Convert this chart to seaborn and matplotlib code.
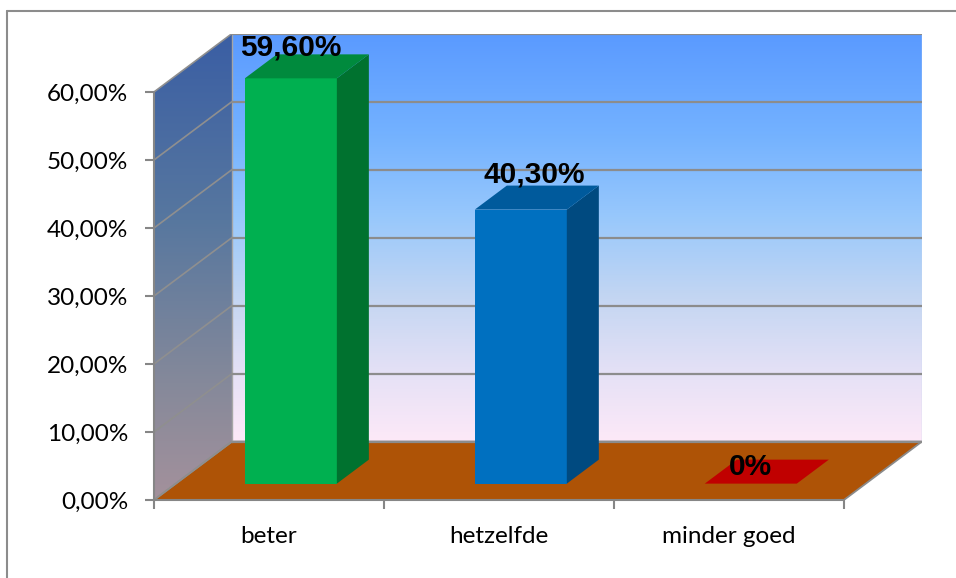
import numpy as np
import matplotlib
matplotlib.use("Agg")
import matplotlib.pyplot as plt
import seaborn as sns
from matplotlib.colors import LinearSegmentedColormap
from matplotlib.patches import Polygon
from matplotlib.transforms import Affine2D
from matplotlib.lines import Line2D

# ---- data -------------------------------------------------------------
categories = ["beter", "hetzelfde", "minder goed"]
values = [59.6, 40.3, 0.0]
value_labels = ["59,60%", "40,30%", "0%"]
y_ticks = [0, 10, 20, 30, 40, 50, 60]
y_tick_labels = ["0,00%", "10,00%", "20,00%", "30,00%", "40,00%", "50,00%", "60,00%"]

# ---- styling ----------------------------------------------------------
front_colors = ["#00B050", "#0070C0", "#C00000"]
side_colors = ["#00722F", "#004A80", "#8A0000"]
top_colors = ["#008A3D", "#005A9C", "#C00000"]
label_offsets_px = [(0, 31), (13, 35), (0, 17)]

sns.set_style("white")
plt.rcParams["font.family"] = ["Lato", "DejaVu Sans"]

W, H = 956, 578
fig = plt.figure(figsize=(W / 100, H / 100), dpi=100)

# pseudo-3D depth offset, in data units (categories / percent)
DX, DY = 0.3396, 8.6
D0, D1 = 0.28, 0.69          # bar depth range (0 = front, 1 = back)
YMAX = 60
x_lo, x_hi = -0.5, len(categories) - 0.5

ax = fig.add_axes([154 / W, 78 / H, 768 / W, 466.5 / H])
ax.set_xlim(x_lo, x_hi + DX)
ax.set_ylim(0, YMAX + DY)

# back wall gradient
wall_cmap = LinearSegmentedColormap.from_list(
    "wall", [(0.0, "#5A9AFF"), (0.25, "#74B2FF"), (0.45, "#98C8FC"),
             (0.65, "#C4D6F2"), (0.85, "#E8E2F6"), (1.0, "#FDE9F8")])
grad = wall_cmap(np.linspace(0, 1, 256))[:, None, :3]
ax.imshow(grad, extent=[x_lo + DX, x_hi + DX, DY, YMAX + DY],
          aspect="auto", origin="upper", zorder=0, interpolation="bilinear")

# side wall gradient, clipped to its parallelogram
side_cmap = LinearSegmentedColormap.from_list(
    "side", [(0.0, "#3A5EA4"), (0.4, "#57779F"), (0.75, "#85899A"), (1.0, "#A4919C")])
side_poly = Polygon([(x_lo, 0), (x_lo + DX, DY), (x_lo + DX, YMAX + DY), (x_lo, YMAX)],
                    closed=True, transform=ax.transData, facecolor="none", edgecolor="none")
ax.add_patch(side_poly)
sgrad = side_cmap(np.linspace(0, 1, 256))[:, None, :3]
im = ax.imshow(sgrad, extent=[x_lo, x_lo + DX, 0, YMAX + DY],
               aspect="auto", origin="upper", zorder=0.2, interpolation="bilinear")
im.set_clip_path(side_poly)

# floor
floor = Polygon([(x_lo, 0), (x_hi, 0), (x_hi + DX, DY), (x_lo + DX, DY)], closed=True,
                facecolor="#AE5306", edgecolor="#8A8A8A", linewidth=1.3, zorder=1)
ax.add_patch(floor)

# gridlines on back wall and side wall
for t in y_ticks:
    ax.plot([x_lo + DX, x_hi + DX], [t + DY, t + DY], color="#8C8C8C", lw=1.6,
            zorder=1.5, solid_capstyle="butt")
    ax.plot([x_lo, x_lo + DX], [t, t + DY], color="#8F8F8F", lw=1.2, zorder=1.5)
ax.plot([x_lo + DX, x_lo + DX], [DY, YMAX + DY], color="#A6A6A6", lw=1.0, zorder=1.4)
ax.plot([x_hi + DX, x_hi + DX], [DY, YMAX + DY], color="#C8D8F0", lw=1.0, zorder=1.4)

# bars: front faces from seaborn, then side and top faces from their geometry
existing = set(ax.patches)
sns.barplot(x=categories, y=values, hue=categories, palette=front_colors,
            order=categories, hue_order=categories, width=0.4, saturation=1,
            legend=False, ax=ax, zorder=3, linewidth=0)
bars = [p for p in ax.patches if p not in existing]
shift = Affine2D().translate(D0 * DX, D0 * DY)

for i, p in enumerate(bars):
    xl, w, h = p.get_x(), p.get_width(), p.get_height()
    xr = xl + w
    p.set_transform(shift + ax.transData)
    if h > 0:
        side = Polygon([(xr + D0 * DX, D0 * DY), (xr + D1 * DX, D1 * DY),
                        (xr + D1 * DX, h + D1 * DY), (xr + D0 * DX, h + D0 * DY)],
                       closed=True, facecolor=side_colors[i], edgecolor="none", zorder=3)
        ax.add_patch(side)
    top = Polygon([(xl + D0 * DX, h + D0 * DY), (xr + D0 * DX, h + D0 * DY),
                   (xr + D1 * DX, h + D1 * DY), (xl + D1 * DX, h + D1 * DY)],
                  closed=True, facecolor=top_colors[i], edgecolor="none", zorder=3)
    ax.add_patch(top)
    ox, oy = label_offsets_px[i]
    ax.annotate(value_labels[i], xy=(xl + w / 2 + D0 * DX, h + D0 * DY),
                xytext=(ox * 0.72, oy * 0.72), textcoords="offset points",
                ha="center", va="center", fontsize=21.5, fontweight="bold",
                family=["Liberation Sans", "DejaVu Sans"], color="black", zorder=5)

# axes, ticks and labels
ax.set_xlim(x_lo, x_hi + DX)
ax.set_ylim(0, YMAX + DY)
ax.set_xlabel("")
ax.set_ylabel("")
for s in ("top", "right"):
    ax.spines[s].set_visible(False)
ax.spines["left"].set_bounds(0, YMAX)
ax.spines["bottom"].set_bounds(x_lo, x_hi)
for s in ("left", "bottom"):
    ax.spines[s].set_color("#868686")
    ax.spines[s].set_linewidth(1.5)
    ax.spines[s].set_zorder(2.5)

ax.set_yticks(y_ticks, y_tick_labels)
ax.set_xticks(range(len(categories)), categories)
ax.set_xticks(np.arange(x_lo, x_hi + 0.01, 1.0), minor=True)
ax.tick_params(axis="y", length=6.5, width=1.5, color="#868686", pad=12,
               labelsize=17.5, labelcolor="black", left=True)
ax.tick_params(axis="x", which="major", length=0, pad=19, labelsize=17.5,
               labelcolor="black")
ax.tick_params(axis="x", which="minor", length=6.5, width=1.5, color="#868686",
               bottom=True, direction="out")

# chart area border
fig.add_artist(Line2D([7 / W, 1], [1 - 11 / H, 1 - 11 / H], color="#8C8C8C", lw=1.5))
fig.add_artist(Line2D([7 / W, 7 / W], [0, 1 - 11 / H], color="#8C8C8C", lw=1.5))

fig.savefig("out.png", dpi=100)
